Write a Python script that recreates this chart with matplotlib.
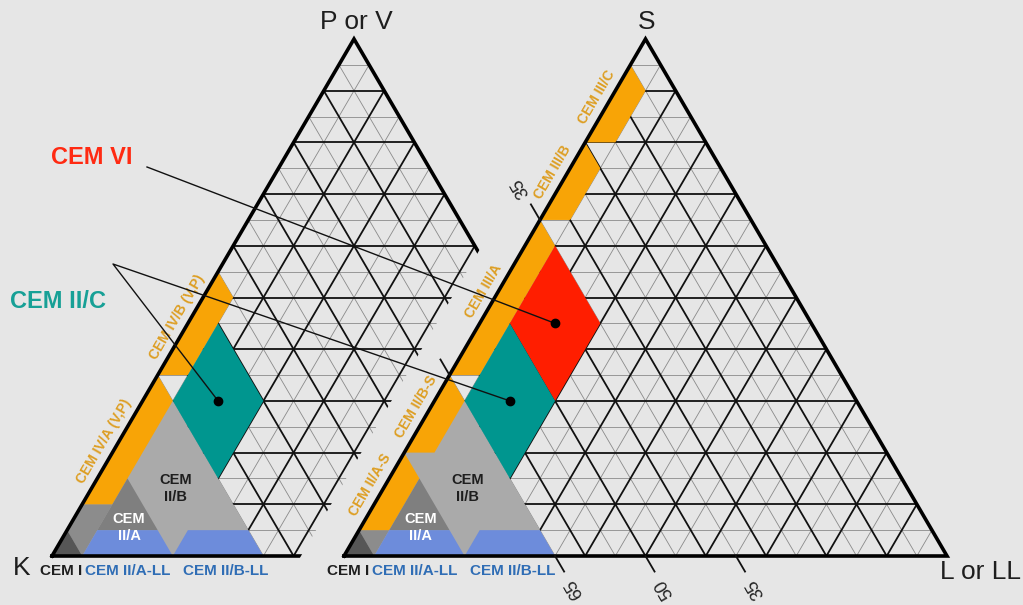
import numpy as np
import matplotlib
matplotlib.use("Agg")
import matplotlib.pyplot as plt
from matplotlib.patches import Polygon
from matplotlib.transforms import Affine2D

plt.rcParams['font.family'] = ['Liberation Sans', 'DejaVu Sans']

# ---------------- data: compositions in percent, given as (K, L, X) ----------------
# X is the apex constituent: P or V in the left diagram, S in the right one.
cem_i = [(100, 0, 0), (95, 5, 0), (95, 0, 5)]
cem_ii_b_zone = [(100, 0, 0), (65, 35, 0), (65, 0, 35)]
cem_ii_a = [(80, 5, 15), (90, 5, 5), (80, 15, 5)]
ii_a_ll = [(95, 5, 0), (90, 5, 5), (80, 15, 5), (80, 20, 0)]
ii_b_ll = [(80, 20, 0), (75, 20, 5), (65, 30, 5), (65, 35, 0)]
cem_ii_c = [(65, 5, 30), (50, 5, 45), (50, 20, 30), (65, 20, 15)]
cem_vi = [(50, 5, 45), (35, 5, 60), (35, 20, 45), (50, 20, 30)]

# left diagram (K - L - P/V)
strip_pv = [(95, 0, 5), (90, 0, 10), (85, 5, 10), (95, 5, 0)]
iv_a = [(90, 0, 10), (65, 0, 35), (65, 5, 30), (85, 5, 10)]
iv_b = [(65, 0, 35), (45, 0, 55), (45, 5, 50), (60, 5, 35)]

# right diagram (K - L - S)
strip_s = [(95, 0, 5), (90, 5, 5), (95, 5, 0)]
ii_a_s = [(95, 0, 5), (80, 0, 20), (80, 5, 15), (90, 5, 5)]
ii_b_s = [(80, 0, 20), (65, 0, 35), (65, 5, 30), (75, 5, 20)]
iii_a = [(65, 0, 35), (35, 0, 65), (35, 5, 60), (60, 5, 35)]
iii_b = [(35, 0, 65), (20, 0, 80), (20, 5, 75), (30, 5, 65)]
iii_c = [(20, 0, 80), (5, 0, 95), (5, 5, 90), (15, 5, 80)]

# centre points marked on the CEM II/C and CEM VI fields
dot_ii_c = (57.5, 12.5, 30)
dot_vi = (42.5, 12.5, 45)

# clinker contents labelled on the slag diagram
k_ticks_base = [65, 50, 35]
k_ticks_edge = [35, 65]
k_tick_edge_labels = ["35", ""]

# edge band labels: (text, X value of the label centre)
edge_labels_left = [("CEM IV/A (V,P)", 21), ("CEM IV/B (V,P)", 45)]
edge_labels_right = [("CEM II/A-S", 12.5), ("CEM II/B-S", 27.5), ("CEM III/A", 50),
                     ("CEM III/B", 73), ("CEM III/C", 87.5)]

# ---------------- colours ----------------
BG = '#e6e6e6'
ORANGE = '#F8A406'
TEAL = '#00968F'
RED = '#FF1E00'
BLUE = '#6D8CDB'
LGRAY = '#AAAAAA'
MGRAY = '#8C8C8C'
DGRAY = '#7F7F7F'
CGRAY = '#565656'
EDGE_TXT = '#DD9E22'
BLUE_TXT = '#2F6DB5'

W, H = 1023, 605
fig = plt.figure(figsize=(W / 100, H / 100), dpi=100, facecolor=BG)
ax = fig.add_axes([0, 0, 1, 1])
ax.set_xlim(0, W)
ax.set_ylim(H, 0)
ax.set_facecolor(BG)
ax.axis('off')


def frame(k_corner, l_corner, x_corner):
    """Affine map from (L%, X%) to figure pixels for one ternary diagram."""
    k = np.array(k_corner, float)
    l = np.array(l_corner, float)
    x = np.array(x_corner, float)
    a = (l - k) / 100.0
    b = (x - k) / 100.0
    return Affine2D(np.array([[a[0], b[0], k[0]], [a[1], b[1], k[1]], [0, 0, 1]]))


left = frame((52, 556), (656, 556), (354, 39))
right = frame((344, 556), (947, 556), (645.5, 39))


def lx(pts):
    return [(p[1], p[2]) for p in pts]


def to_px(tr, comp):
    return tr.transform((comp[1], comp[2]))


def draw_grid(tr, clip=None):
    arts = []
    for v in range(5, 100, 5):
        thick = v % 10 == 0
        lw = 1.3 if thick else 0.6
        col = '#111111' if thick else '#8a8a8a'
        z = 2 if thick else 1
        segs = [[(0, v), (100 - v, v)], [(v, 0), (v, 100 - v)], [(100 - v, 0), (0, 100 - v)]]
        for s in segs:
            xy = tr.transform(np.array(s, float))
            ln, = ax.plot(xy[:, 0], xy[:, 1], color=col, lw=lw, zorder=z, solid_capstyle='butt')
            arts.append(ln)
    corners = tr.transform(np.array([(0, 0), (100, 0), (0, 100), (0, 0)], float))
    ln, = ax.plot(corners[:, 0], corners[:, 1], color='black', lw=2.6, zorder=5,
                  solid_joinstyle='miter')
    arts.append(ln)
    if clip is not None:
        for a in arts:
            a.set_clip_path(clip)


def fill(tr, pts, color, z=3):
    xy = tr.transform(np.array(lx(pts), float))
    ax.add_patch(Polygon(xy, closed=True, facecolor=color, edgecolor='none', lw=0, zorder=z))


# the left diagram is cut back along a band parallel to the right diagram's K-S edge
rk = right.transform((0, 0))
rs = right.transform((0, 100))
band = 43
d = (rs - rk) / np.linalg.norm(rs - rk)
p0 = rk - np.array([band, 0]) - d * 80
p1 = rk - np.array([band, 0]) + d * 700
clip_poly = Polygon([(-20, p0[1]), (p0[0], p0[1]), (p1[0], p1[1]), (-20, p1[1])],
                    closed=True, transform=ax.transData, facecolor='none', edgecolor='none')
ax.add_patch(clip_poly)

draw_grid(left, clip=clip_poly)
draw_grid(right)

# ---- fields ----
for tr, extra in ((left, [(strip_pv, MGRAY), (iv_a, ORANGE), (iv_b, ORANGE)]),
                  (right, [(strip_s, MGRAY), (ii_a_s, ORANGE), (ii_b_s, ORANGE),
                           (iii_a, ORANGE), (iii_b, ORANGE), (iii_c, ORANGE), (cem_vi, RED)])):
    fill(tr, cem_ii_b_zone, LGRAY)
    for pts, c in extra:
        fill(tr, pts, c)
    fill(tr, cem_ii_a, DGRAY)
    fill(tr, cem_i, CGRAY)
    fill(tr, ii_a_ll, BLUE)
    fill(tr, ii_b_ll, BLUE)
    fill(tr, cem_ii_c, TEAL)

# ---- ticks on the slag diagram ----
tick_dir = d  # direction of constant-K lines (parallel to the L-S edge) is computed below
ls_dir = right.transform((0, 100)) - right.transform((100, 0))
ls_dir = ls_dir / np.linalg.norm(ls_dir)
for k in k_ticks_base:
    p = to_px(right, (k, 100 - k, 0))
    e = p - ls_dir * 18
    ax.plot([p[0], e[0]], [p[1], e[1]], color='#111111', lw=1.3, zorder=5)
    t = p - ls_dir * 38
    ax.text(t[0], t[1], str(k), rotation=120, rotation_mode='anchor', ha='center', va='center',
            fontsize=13, color='#222222', zorder=7)
for k, lab in zip(k_ticks_edge, k_tick_edge_labels):
    p = to_px(right, (k, 0, 100 - k))
    e = p + ls_dir * 18
    ax.plot([p[0], e[0]], [p[1], e[1]], color='#111111', lw=1.3, zorder=5)
    if lab:
        t = p + ls_dir * 38
        ax.text(t[0], t[1], lab, rotation=120, rotation_mode='anchor', ha='center', va='center',
                fontsize=13, color='#222222', zorder=7)

# ---- labels along the K-X edges ----
for tr, labels in ((left, edge_labels_left), (right, edge_labels_right)):
    a = tr.transform((0, 0))
    b = tr.transform((0, 100))
    ang = np.degrees(np.arctan2(-(b[1] - a[1]), b[0] - a[0]))
    u = (b - a) / np.linalg.norm(b - a)
    nrm = np.array([u[1], -u[0]])  # outward (left of the edge)
    for txt, xv in labels:
        p = to_px(tr, (100 - xv, 0, xv)) + nrm * 13
        ax.text(p[0], p[1], txt, rotation=ang, rotation_mode='anchor', ha='center', va='center',
                fontsize=10, fontweight='bold', color=EDGE_TXT, zorder=7)

# ---- field names inside the triangles ----
for tr in (left, right):
    p = to_px(tr, (73, 14, 13))
    ax.text(p[0], p[1], "CEM\nII/B", ha='center', va='center', fontsize=10.5, fontweight='bold',
            color='#1e1e1e', linespacing=1.25, zorder=7)
    p = to_px(tr, (84.5, 10, 5.5))
    ax.text(p[0], p[1], "CEM\nII/A", ha='center', va='center', fontsize=10.5, fontweight='bold',
            color='white', linespacing=1.25, zorder=7)

# ---- labels under the bases ----
for x0, y0 in ((40, 571), (327, 571)):
    ax.text(x0, y0, "CEM I", ha='left', va='center', fontsize=11, fontweight='bold',
            color='#1e1e1e', zorder=7)
    ax.text(x0 + 45, y0, "CEM II/A-LL", ha='left', va='center', fontsize=11, fontweight='bold',
            color=BLUE_TXT, zorder=7)
    ax.text(x0 + 143, y0, "CEM II/B-LL", ha='left', va='center', fontsize=11, fontweight='bold',
            color=BLUE_TXT, zorder=7)

# ---- corner names ----
corner_kw = dict(fontsize=19, color='#1e1e1e', ha='center', va='center', zorder=7)
ax.text(356, 22, "P or V", **corner_kw)
ax.text(647, 22, "S", **corner_kw)
ax.text(22, 568, "K", **corner_kw)
ax.text(980, 572, "L or LL", **corner_kw)

# ---- leader lines and marked points ----
p_vi = to_px(right, dot_vi)
p_c_left = to_px(left, dot_ii_c)
p_c_right = to_px(right, dot_ii_c)
ax.plot([147, p_vi[0]], [167, p_vi[1]], color='#111111', lw=1.0, zorder=8)
ax.plot([p_c_left[0], 113, p_c_right[0]], [p_c_left[1], 264, p_c_right[1]], color='#111111',
        lw=1.0, zorder=8)
for p in (p_vi, p_c_left, p_c_right):
    ax.plot(p[0], p[1], 'o', color='black', ms=6, zorder=9)

ax.text(92, 158, "CEM VI", ha='center', va='center', fontsize=17, fontweight='bold',
        color='#FF2A12', zorder=7)
ax.text(58, 301, "CEM II/C", ha='center', va='center', fontsize=17, fontweight='bold',
        color='#17A096', zorder=7)

fig.savefig("out.png", dpi=100, facecolor=BG)
